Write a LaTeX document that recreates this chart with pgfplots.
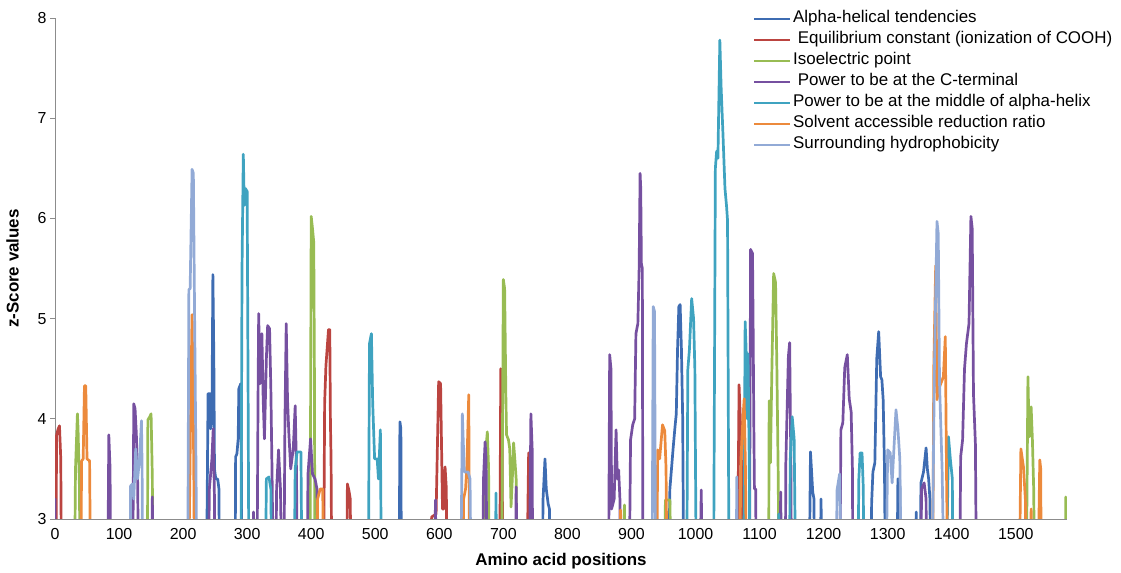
\documentclass[border=0pt]{standalone}
\usepackage{pgfplots}
\pgfplotsset{compat=1.18}
\usepackage{fontspec}
\setmainfont{Liberation Sans}
\definecolor{cBlue}{HTML}{3E6CB2}
\definecolor{cRed}{HTML}{BB4440}
\definecolor{cGreen}{HTML}{98BC53}
\definecolor{cPurple}{HTML}{7650A0}
\definecolor{cTeal}{HTML}{3FA3C0}
\definecolor{cOrange}{HTML}{EC8A3C}
\definecolor{cLight}{HTML}{92AAD6}
\definecolor{axgray}{HTML}{8C8C8C}
\begin{document}
\begin{tikzpicture}
\useasboundingbox (0,0) rectangle (1121bp,573bp);
\begin{axis}[
  at={(55bp,54bp)}, anchor=south west,
  scale only axis, width=1012bp, height=501bp,
  xmin=0, xmax=1580, ymin=3, ymax=8,
  axis x line=bottom, axis y line=left,
  axis line style={draw=axgray, line width=0.9bp, -},
  xtick={0,100,...,1500}, ytick={3,4,...,8},
  every x tick/.style={draw=none},
  every y tick/.style={draw=axgray, line width=0.9bp},
  tick align=outside, major tick length=5bp,
  /pgf/number format/1000 sep={},
  /pgf/number format/assume math mode=true,
  ticklabel style={font=\fontsize{16}{19}\selectfont, text=black},
  xticklabel style={yshift=-1bp},
  xlabel={\bfseries Amino acid positions},
  ylabel={\bfseries z-Score values},
  label style={font=\fontsize{17}{20}\selectfont},
  xlabel style={yshift=-7bp},
  ylabel style={yshift=12bp},
  every axis plot/.append style={line width=2.7bp, line join=round},
  legend image code/.code={\draw[#1, line width=2bp] (0bp,0bp) -- (36bp,0bp);},
  legend cell align=left,
  legend style={at={(0.6897,1.015)}, anchor=north west, draw=none, fill=none,
    font=\fontsize{17}{20}\selectfont, inner sep=0pt, row sep=5bp, column sep=2bp,
    nodes={inner sep=0pt, text height=12bp, text depth=4bp}},
]
% Alpha-helical tendencies
\addplot[cBlue] coordinates {(236,2)(239,4.25)(242,4.25)(243,3.9)(245,4.0)(246.5,5.44)(248,4.6)(249,3.5)(251,3.4)(254,3.4)(256,3.3)(257,2)
(281,2)(282,3.62)(284,3.65)(286,3.8)(287,4.3)(290,4.35)(291,3.6)(292,2)
(537,2)(538.5,3.97)(540,3.9)(541,2)
(760,2)(762,3.2)(765,3.6)(767,3.3)(770,3.15)(772,3.1)(774,2)
(957,2)(960,3.3)(965,3.7)(968,3.92)(970,4.05)(972,4.7)(974,5.12)(976,5.14)(978,4.7)(980,4.0)(982,2)
(1177,2)(1179.5,3.67)(1181,3.5)(1183,3.27)(1185,3.2)(1186,2)
(1194,2)(1196,3.2)(1198,2)
(1273,2)(1275,3.16)(1277,3.47)(1280,3.56)(1283,4.6)(1286,4.87)(1289,4.42)(1291,4.39)(1293,4.19)(1295,3.53)(1297,2)
(1314,2)(1316,3.4)(1319,3.39)(1321,2)
(1343,2)(1344.5,3.07)(1346,2)
(1350,2)(1352,3.36)(1356,3.47)(1360,3.71)(1362,3.5)(1364,3.4)(1366,3.2)(1368,2)};
\addlegendentry{Alpha-helical tendencies}
% Equilibrium constant
\addplot[cRed] coordinates {(1,2)(2.5,3.84)(5,3.9)(7,3.93)(9,3.6)(10.5,2)
(419,2)(421,4.16)(423,4.53)(427,4.89)(429,4.89)(430,3.98)(431,3.6)(432.5,2)
(455,2)(456.5,3.35)(459,3.28)(461,3.2)(462.5,2)
(586,2)(588,3.02)(595,3.05)(599,4.37)(602,4.35)(605,3.1)(607,3.1)(609,3.52)(611,3.3)(612,2)
(694,2)(696,4.5)(698,4.4)(699,2)
(736,2)(739.5,3.66)(741,3.6)(742,2)
(1065,2)(1068,4.34)(1070,4.0)(1072,3.5)(1075,2)};
\addlegendentry{\ Equilibrium constant (ionization of COOH)}
% Isoelectric point
\addplot[cGreen] coordinates {(30,2)(32,3.5)(35,4.05)(36,3.9)(38,3.36)(40,2)
(144,2)(145,3.99)(148,4.02)(150,4.05)(152,3.4)(153,2)
(398,2)(400,6.02)(402,5.9)(404,5.76)(405,4.5)(406,2)
(668,2)(670,3.3)(673,3.72)(675,3.87)(677,3.5)(678,2)
(697,2)(700,5.39)(702,5.3)(704,4.2)(705,3.84)(708,3.79)(710,3.7)(712,3.12)(714,3.4)(716,3.76)(718,3.59)(720,3.4)(722,2)
(886,2)(889,3.14)(891,2)
(951,2)(953,3.19)(960,3.19)(963,2)
(1114,2)(1115,4.18)(1117,3.56)(1119,4.4)(1122,5.45)(1125,5.36)(1127,4.53)(1129,3.5)(1131,2)
(1516,2)(1519,4.42)(1521,3.82)(1524,4.12)(1526,3.79)(1528,3.3)(1530,2)
(1577,2)(1578,3.22)(1578.5,2)};
\addlegendentry{Isoelectric point}
% Power to be at the C-terminal
\addplot[cPurple] coordinates {(-1,2)(0,3.2)(1,2)
(82,2)(84,3.84)(86,3.5)(87,2)
(121,2)(123,4.15)(125,4.1)(127,3.85)(129,3.4)(131,2)
(151,2)(152,3.22)(153,2)
(239,2)(241,3.3)(245,3.6)(247,3.9)(249,3.2)(250,2)
(309,2)(310,3.07)(311,2)
(315,2)(317,4.2)(318,5.05)(320,4.35)(323,4.85)(325,4.2)(327,3.8)(330,4.6)(332,4.93)(335,4.9)(337,4.3)(339,3.4)(341.5,2)
(344,2)(346,3.3)(349,3.69)(352,3.3)(355,2)
(357,2)(359,3.98)(361,4.95)(363,4.2)(365,3.87)(368,3.5)(372,3.7)(375,4.13)(377,3.5)(379,2)
(393,2)(395,3.45)(399,3.8)(402,3.45)(406,3.4)(409,3.3)(412,2)
(592,2)(594,3.19)(596,2)
(667,2)(669,3.4)(671.5,3.77)(673,3.6)(675,2)
(718,2)(720,3.32)(723,2)
(740,2)(743,4.05)(745,3.7)(746,2)
(864,2)(866,4.64)(868,4.5)(869,3.1)(873,3.2)(876,3.89)(878,3.4)(880,3.49)(882,3.2)(883,2)
(896,2)(898.6,3.79)(902,3.94)(905,4.0)(907,4.85)(910,4.95)(912,5.5)(913.5,6.45)(914.5,6.3)(915.5,5.55)(917,5.5)(918,2)
(1006,2)(1009,3.29)(1011,2)
(1084,2)(1086,5.69)(1089,5.65)(1090,4.9)(1091,3.98)(1092,3.3)(1094,3.3)(1095,2)
(1131,2)(1133,3.27)(1135,2)
(1140,2)(1141,3.55)(1145,4.62)(1147,4.76)(1148,4.1)(1149,3.5)(1150,2)
(1225,2)(1227,3.89)(1230,3.96)(1233,4.51)(1237,4.64)(1240,4.2)(1243,4.07)(1245,3.5)(1246,2)
(1351,2)(1353,3.3)(1357,3.36)(1360,3.2)(1361,2)
(1412,2)(1414,3.62)(1417,3.79)(1420,4.5)(1423,4.75)(1427,4.95)(1430,6.02)(1432,5.9)(1434,4.25)(1437,3.75)(1439,2)};
\addlegendentry{\ Power to be at the C-terminal}
% Power to be at the middle of alpha-helix
\addplot[cTeal] coordinates {(290,2)(292,5.5)(294,6.64)(295.5,6.13)(297,6.3)(300,6.27)(301.5,4.24)(303,2)
(328,2)(330,3.4)(334,3.42)(337,3.3)(339,2)
(373,2)(375,3.5)(378,3.67)(384,3.67)(386,2)
(489,2)(491,4.75)(494,4.85)(496,4.16)(499,3.6)(503,3.6)(505,3.4)(508,3.89)(510,2)
(687,2)(688.5,3.26)(690,2)
(986,2)(988,4.49)(990.5,4.69)(994,5.2)(997,5.0)(999,4.5)(1001.6,2)
(1028,2)(1031,6.5)(1033,6.67)(1035,6.6)(1038,7.78)(1040,7.31)(1043,6.82)(1046,6.3)(1048.5,6.12)(1050,5.98)(1052.6,2)
(1075,2)(1077.5,4.97)(1079,4.7)(1081,4.0)(1082,4.65)(1084,3.5)(1085,2)
(1129,2)(1130,3.05)(1132,2)
(1146,2)(1148,3.6)(1151,4.02)(1154,3.8)(1157,2)
(1253,2)(1255,3.4)(1257,3.66)(1260,3.66)(1262,3.3)(1263,2)
(1391,2)(1395,3.82)(1398,3.59)(1401,3.4)(1402,2)};
\addlegendentry{Power to be at the middle of alpha-helix}
% Solvent accessible reduction ratio
\addplot[cOrange] coordinates {(40,2)(41.5,3.58)(44,3.6)(46,4.33)(48,4.33)(50,3.6)(54,3.58)(56,2)
(208,2)(212,4.2)(214,5.04)(216,4.0)(217,3.22)(218,2)
(408,2)(410,3.2)(414,3.3)(418,3.3)(420,2)
(636,2)(638,3.2)(641,3.3)(643,3.52)(646,4.24)(647.5,2)
(881,2)(883,3.09)(886,2)
(939,2)(941,3.69)(944,3.6)(948.5,3.94)(952,3.88)(954,3.5)(956,2)
(1068,2)(1071,3.6)(1074,4.0)(1076,4.2)(1078,3.5)(1080,2)
(1370,2)(1372,4.5)(1375,5.53)(1377,4.19)(1380,4.3)(1387,4.42)(1390,4.82)(1392,3.4)(1394.5,2)
(1505,2)(1508,3.7)(1512,3.52)(1515,3.2)(1517,2)
(1522,2)(1524,3.1)(1526,2)
(1534,2)(1537.5,3.59)(1539,3.5)(1540,2)};
\addlegendentry{Solvent accessible reduction ratio}
% Surrounding hydrophobicity
\addplot[cLight] coordinates {(117,2)(118,3.33)(121,3.35)(123,3.2)(126,3.7)(129,3.4)(132,3.6)(135,3.98)(136,3.5)(137,2)
(207,2)(209,5.29)(211,5.3)(214,6.49)(216,6.45)(218,5.0)(220,3.62)(222,2)
(633,2)(636,4.05)(639,3.47)(645,3.47)(648,3.4)(650,2)
(932,2)(934,5.12)(936,5.07)(938,2)
(1063,2)(1064.5,3.42)(1066,2)
(1219,2)(1221,3.29)(1225,3.45)(1229,2)
(1297,2)(1300,3.69)(1304,3.66)(1307,3.36)(1313,4.09)(1316,3.9)(1319,3.6)(1322,2)
(1369,2)(1371,3.3)(1373,4.5)(1377,5.97)(1379,5.85)(1381,4.35)(1385,3.5)(1389,2)};
\addlegendentry{Surrounding hydrophobicity}
\end{axis}
\end{tikzpicture}
\end{document}
